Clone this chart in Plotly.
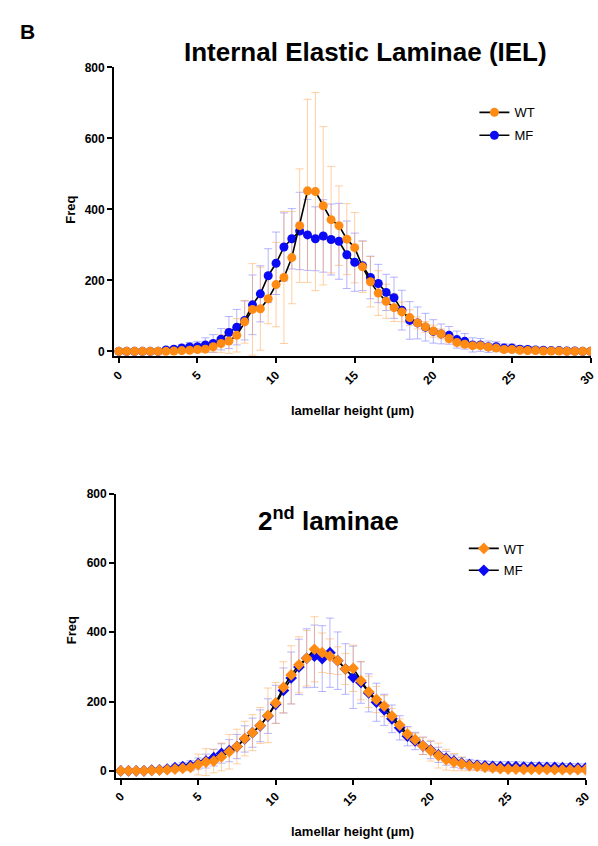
import plotly.graph_objects as go

# bins (lamellar height, um)
height = [0, 0.5, 1, 1.5, 2, 2.5, 3, 3.5, 4, 4.5, 5, 5.5, 6, 6.5, 7, 7.5, 8, 8.5, 9, 9.5,
          10, 10.5, 11, 11.5, 12, 12.5, 13, 13.5, 14, 14.5, 15, 15.5, 16, 16.5, 17, 17.5,
          18, 18.5, 19, 19.5, 20, 20.5, 21, 21.5, 22, 22.5, 23, 23.5, 24, 24.5, 25, 25.5,
          26, 26.5, 27, 27.5, 28, 28.5, 29, 29.5, 30]

# Internal Elastic Laminae (IEL)
iel_wt = [0, 0, 0, 0, 0, 0, 0, 1, 2, 3, 5, 6, 13, 22, 29, 45, 83, 118, 120, 148,
          188, 208, 264, 354, 452, 450, 410, 371, 354, 316, 292, 238, 196, 164, 141, 123,
          111, 95, 80, 69, 57, 49, 36, 25, 20, 16, 16, 12, 9, 5, 5, 3,
          2, 2, 1, 1, 1, 0, 0, 0, 0]
iel_wt_sd = [0, 0, 0, 0, 0, 0, 0, 2, 3, 5, 6, 8, 15, 25, 35, 47, 60, 129, 117, 70,
             119, 186, 130, 160, 258, 279, 223, 150, 112, 100, 99, 72, 71, 63, 48, 39,
             28, 22, 17, 15, 17, 14, 12, 10, 9, 8, 8, 6, 5, 4, 4, 3,
             2, 2, 1, 1, 1, 0, 0, 0, 0]
iel_mf = [0, 0, 0, 0, 0, 0, 4, 6, 9, 12, 13, 18, 22, 34, 53, 68, 87, 131, 162, 213,
          248, 294, 317, 339, 328, 317, 325, 315, 310, 272, 251, 241, 208, 191, 166, 151,
          116, 87, 80, 68, 56, 49, 45, 33, 28, 18, 18, 13, 13, 9, 9, 6,
          5, 4, 3, 2, 2, 1, 1, 0, 0]
iel_mf_sd = [0, 0, 1, 1, 2, 2, 5, 7, 10, 13, 15, 20, 25, 30, 45, 50, 55, 84, 79, 76,
             88, 96, 85, 109, 100, 90, 102, 100, 107, 95, 82, 70, 60, 54, 51, 58,
             56, 53, 45, 39, 33, 28, 25, 24, 22, 20, 18, 16, 14, 12, 11, 10,
             9, 8, 7, 6, 5, 5, 4, 4, 3]

# 2nd laminae
sec_wt = [0, 0, 0, 0, 1, 2, 3, 5, 7, 10, 18, 25, 28, 40, 55, 70, 93, 110, 131, 160,
          196, 241, 277, 306, 325, 351, 341, 331, 318, 294, 296, 260, 228, 206, 187, 158,
          132, 106, 90, 72, 58, 44, 32, 25, 20, 15, 13, 10, 8, 6, 5, 5,
          4, 4, 4, 4, 3, 3, 3, 3, 3]
sec_wt_sd = [0, 0, 0, 1, 2, 3, 4, 5, 6, 10, 30, 39, 34, 40, 50, 50, 50, 52, 52, 79,
             59, 74, 84, 81, 80, 94, 57, 50, 40, 45, 67, 55, 45, 38, 30, 22,
             18, 18, 18, 25, 30, 36, 30, 25, 20, 15, 12, 10, 9, 8, 7, 7,
             6, 6, 6, 5, 5, 5, 5, 5, 5]
sec_mf = [0, 0, 0, 0, 2, 3, 5, 9, 12, 15, 21, 28, 38, 50, 58, 70, 92, 110, 130, 158,
          192, 232, 268, 300, 325, 331, 324, 341, 318, 294, 270, 255, 225, 198, 176, 150,
          124, 100, 86, 72, 60, 46, 36, 28, 22, 18, 16, 14, 13, 12, 12, 12,
          11, 11, 11, 10, 10, 9, 9, 8, 8]
sec_mf_sd = [0, 0, 1, 1, 3, 5, 8, 10, 12, 14, 16, 20, 24, 28, 32, 35, 38, 42, 46, 50,
             55, 65, 75, 80, 85, 90, 95, 100, 83, 73, 90, 60, 55, 55, 45, 40,
             35, 28, 25, 25, 25, 22, 20, 18, 16, 15, 14, 14, 14, 14, 14, 14,
             14, 13, 13, 13, 13, 12, 12, 12, 12]

x_ticks = [0, 5, 10, 15, 20, 25, 30]
y_ticks = [0, 200, 400, 600, 800]

ORANGE = "#FF8A14"
BLUE = "#0A0AF5"
ORANGE_ERR = "rgba(255,170,90,0.55)"
BLUE_ERR = "rgba(120,120,255,0.55)"
FONT = "Arial, Liberation Sans, sans-serif"

fig = go.Figure()


def add_panel(wt, wt_sd, mf, mf_sd, xa, ya, legend, symbol, msize):
    # error bars first so they sit behind everything
    for vals, sd, col in [(mf, mf_sd, BLUE_ERR), (wt, wt_sd, ORANGE_ERR)]:
        fig.add_trace(go.Scatter(
            x=height, y=vals, mode="markers",
            marker=dict(size=1, color="rgba(0,0,0,0)"),
            error_y=dict(type="data", array=sd, visible=True, color=col,
                         thickness=1, width=4),
            xaxis=xa, yaxis=ya, showlegend=False, hoverinfo="skip"))
    for name, vals, col, grp in [("MF", mf, BLUE, "b"), ("WT", wt, ORANGE, "a")]:
        fig.add_trace(go.Scatter(
            x=height, y=vals, mode="lines+markers", name=name,
            line=dict(color="black", width=1.6),
            marker=dict(color=col, size=msize, symbol=symbol),
            xaxis=xa, yaxis=ya, legend=legend, legendgroup=legend + grp,
            legendrank=1 if name == "WT" else 2))


add_panel(iel_wt, iel_wt_sd, iel_mf, iel_mf_sd, "x", "y", "legend", "circle", 9)
add_panel(sec_wt, sec_wt_sd, sec_mf, sec_mf_sd, "x2", "y2", "legend2", "diamond", 9)

axis_common = dict(showline=True, linecolor="black", linewidth=2, ticks="outside",
                   ticklen=5, tickwidth=1.5, tickcolor="black", showgrid=False,
                   zeroline=False, ticklabeloverflow="allow",
                   tickfont=dict(family=FONT, size=12, color="black", weight="bold"))

fig.update_layout(
    width=598, height=846,
    margin=dict(l=0, r=0, t=0, b=0),
    paper_bgcolor="white", plot_bgcolor="white",
    font=dict(family=FONT, color="black"),
    xaxis=dict(domain=[0.1873, 0.9983], range=[-0.3, 30.03], tickvals=x_ticks,
               tickangle=-45, anchor="y", **axis_common),
    yaxis=dict(domain=[0.5827, 0.9279], range=[-14, 800], tickvals=y_ticks,
               anchor="x", **axis_common),
    xaxis2=dict(domain=[0.1906, 0.9900], range=[-0.3, 30.03], tickvals=x_ticks,
                tickangle=-45, anchor="y2", **axis_common),
    yaxis2=dict(domain=[0.0792, 0.4184], range=[-20, 800], tickvals=y_ticks,
                anchor="x2", **axis_common),
    legend=dict(x=0.80, y=0.892, xanchor="left", yanchor="top", bgcolor="rgba(0,0,0,0)",
                font=dict(family=FONT, size=13, color="black"), tracegroupgap=3,
                itemwidth=30),
    legend2=dict(x=0.782, y=0.371, xanchor="left", yanchor="top", bgcolor="rgba(0,0,0,0)",
                 font=dict(family=FONT, size=13, color="black"), tracegroupgap=2,
                 itemwidth=30),
    showlegend=True,
)

ann = [
    dict(text="<b>B</b>", x=24, y=25, size=21),
    dict(text="<b>Internal Elastic Laminae (IEL)</b>", x=368, y=45, size=26),
    dict(text="<b>2<sup>nd</sup> laminae</b>", x=330, y=518, size=26),
    dict(text="<b>Freq</b>", x=68, y=205, size=13, angle=-90),
    dict(text="<b>Freq</b>", x=68, y=630, size=13, angle=-90),
    dict(text="<b>lamellar height (\u00b5m)</b>", x=354, y=408, size=13),
    dict(text="<b>lamellar height (\u00b5m)</b>", x=354, y=833, size=13),
]
for a in ann:
    fig.add_annotation(text=a["text"], x=a["x"] / 598, y=1 - a["y"] / 846,
                       xref="paper", yref="paper", showarrow=False,
                       xanchor="center", yanchor="middle", textangle=a.get("angle", 0),
                       font=dict(family=FONT, size=a["size"], color="black"))

# drop the default page margin so the figure sits at the window's top-left corner
fig.write_html("out.html", config={"displayModeBar": False},
               post_script="document.body.style.margin='0';document.body.style.overflow='hidden';")
